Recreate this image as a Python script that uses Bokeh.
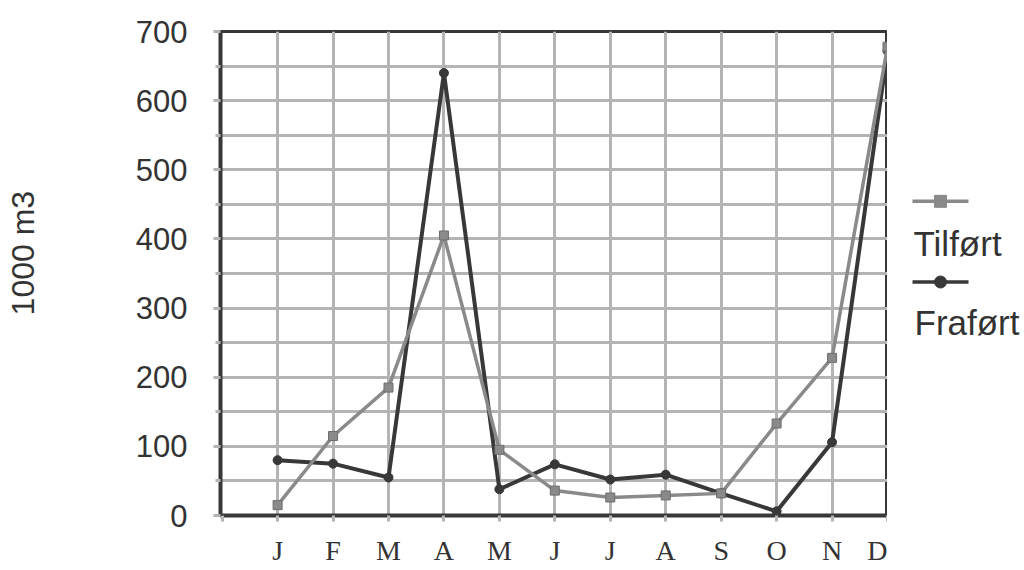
import math

from bokeh.core.properties import value
from bokeh.embed import file_html
from bokeh.layouts import row
from bokeh.models import ColumnDataSource, FixedTicker, Range1d
from bokeh.plotting import figure
from bokeh.resources import INLINE

# Monthly volumes, 1000 m3
months = ["J", "F", "M", "A", "M", "J", "J", "A", "S", "O", "N", "D"]
tilfort = [15, 115, 185, 405, 95, 36, 26, 29, 32, 133, 228, 678]
frafort = [80, 75, 55, 640, 38, 74, 52, 59, 32, 6, 106, 672]
y_ticks = [0, 100, 200, 300, 400, 500, 600, 700]
series_names = ["Tilført", "Fraført"]
y_title = "1000 m3"

DARK = "#383838"
GRAY = "#8a8a8a"
GRID = "#b4b4b4"
SANS = "Liberation Sans"
SERIF = "Liberation Serif"


def blank_panel(width, x_end, y_range):
    f = figure(
        width=width, height=570,
        x_range=Range1d(0, x_end), y_range=y_range,
        output_backend="svg", toolbar_location=None,
        x_axis_type=None, y_axis_type=None, min_border=0,
    )
    f.outline_line_color = None
    f.grid.visible = False
    f.background_fill_color = "white"
    f.border_fill_color = "white"
    return f


# left panel holding the vertical axis title
ttl = blank_panel(50, 50, Range1d(0, 570))
ttl.text(x=[22], y=[309], text=[y_title], angle=math.pi / 2,
         text_font=value(SANS), text_font_size="32px", text_color="#333333",
         text_align="center", text_baseline="alphabetic")

idx = list(range(len(months)))
src = ColumnDataSource(dict(x=idx, tilfort=tilfort, frafort=frafort))

p = figure(
    width=837, height=570,
    x_range=Range1d(-1.03, len(months) - 1),
    y_range=Range1d(0, 700),
    output_backend="svg", toolbar_location=None,
    min_border_left=170, min_border_right=0,
    min_border_top=31, min_border_bottom=55,
)
p.background_fill_color = "white"
p.border_fill_color = "white"
p.outline_line_color = DARK
p.outline_line_width = 3

# grid
p.xgrid.ticker = FixedTicker(ticks=idx[:-1])
p.ygrid.ticker = FixedTicker(ticks=list(range(50, 700, 50)))
p.grid.grid_line_color = GRID
p.grid.grid_line_width = 3

# y axis
p.yaxis.ticker = FixedTicker(ticks=y_ticks, minor_ticks=list(range(50, 700, 100)))
p.yaxis.axis_line_color = DARK
p.yaxis.axis_line_width = 4
p.yaxis.major_tick_line_color = GRID
p.yaxis.major_tick_line_width = 3
p.yaxis.major_tick_out = 7
p.yaxis.major_tick_in = 0
p.yaxis.minor_tick_line_color = GRID
p.yaxis.minor_tick_line_width = 3
p.yaxis.minor_tick_out = 5
p.yaxis.minor_tick_in = 0
p.yaxis.major_label_text_font = SANS
p.yaxis.major_label_text_font_size = "31px"
p.yaxis.major_label_text_color = "#333333"
p.yaxis.major_label_standoff = 26

# x axis
p.xaxis.ticker = FixedTicker(ticks=[-1] + idx)
overrides = {-1: ""}
overrides.update({i: m for i, m in zip(idx, months)})
p.xaxis.major_label_overrides = overrides
p.xaxis.axis_line_color = DARK
p.xaxis.axis_line_width = 4
p.xaxis.major_tick_line_color = GRID
p.xaxis.major_tick_line_width = 3
p.xaxis.major_tick_out = 6
p.xaxis.major_tick_in = 0
p.xaxis.minor_tick_line_color = None
p.xaxis.major_label_text_font = SERIF
p.xaxis.major_label_text_font_size = "28px"
p.xaxis.major_label_text_color = "#333333"
p.xaxis.major_label_standoff = 13

# series
p.line("x", "frafort", source=src, line_color=DARK, line_width=4)
p.scatter("x", "frafort", source=src, marker="circle", size=9,
          fill_color=DARK, line_color=DARK)
p.line("x", "tilfort", source=src, line_color=GRAY, line_width=3.5)
p.scatter("x", "tilfort", source=src, marker="square", size=9,
          fill_color=GRAY, line_color="#6e6e6e")

# legend panel to the right of the plot frame
leg = blank_panel(137, 137, Range1d(570, 0))
leg_src = ColumnDataSource(dict(
    x0=[25, 25], x1=[81, 81], y=[200, 295], xm=[53, 53],
    ty=[250, 343], tx=[26, 27], name=series_names,
    color=[GRAY, DARK], marker=["square", "circle"],
))
leg.segment(x0="x0", y0="y", x1="x1", y1="y", source=leg_src,
            line_color="color", line_width=3.5)
leg.scatter(x="xm", y="y", marker="marker", size=12, source=leg_src,
            fill_color="color", line_color="color")
leg.text(x="tx", y="ty", text="name", source=leg_src,
         text_font=value(SANS), text_font_size="35px", text_color="#333333",
         text_align="left", text_baseline="middle")

layout = row(ttl, p, leg, spacing=0)
open("out.html", "w").write(file_html(layout, INLINE))
